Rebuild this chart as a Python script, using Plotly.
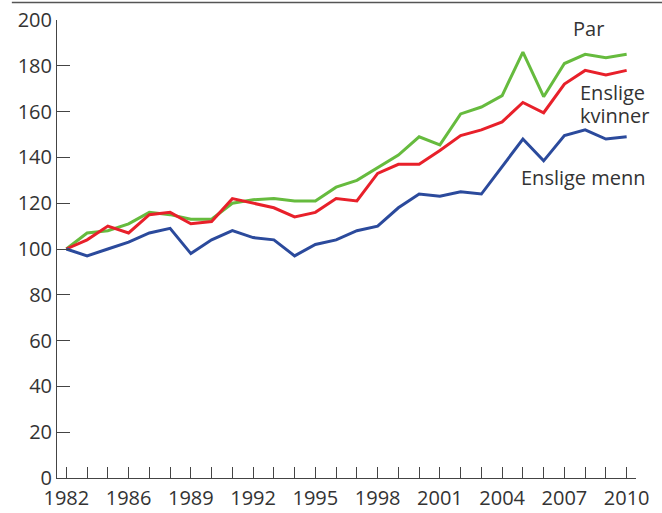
import plotly.graph_objects as go

# Data (index positions 0..27; labels shown at every third tick)
labels = ["1982", "", "", "1986", "", "", "1989", "", "", "1992", "", "", "1995", "", "",
          "1998", "", "", "2001", "", "", "2004", "", "", "2007", "", "", "2010"]
idx = list(range(len(labels)))

par = [100, 107, 108, 111, 116, 115, 113, 113, 120, 121.5, 122, 121, 121, 127, 130,
       135.5, 141, 149, 145.5, 159, 162, 167, 186, 166.5, 181, 185, 183.5, 185]
kvinner = [100, 104, 110, 107, 115, 116, 111, 112, 122, 120, 118, 114, 116, 122, 121,
           133, 137, 137, 143, 149.5, 152, 155.5, 164, 159.5, 172, 178, 176, 178]
menn = [100, 97, 100, 103, 107, 109, 98, 104, 108, 105, 104, 97, 102, 104, 108,
        110, 118, 124, 123, 125, 124, 136, 148, 138.5, 149.5, 152, 148, 149]

FONT = "Open Sans"
TXT = "#333333"

fig = go.Figure()
fig.add_trace(go.Scatter(x=idx, y=par, mode="lines", name="Par",
                         line=dict(color="#66bb3e", width=3)))
fig.add_trace(go.Scatter(x=idx, y=kvinner, mode="lines", name="Enslige kvinner",
                         line=dict(color="#e8202a", width=3)))
fig.add_trace(go.Scatter(x=idx, y=menn, mode="lines", name="Enslige menn",
                         line=dict(color="#2b4a9c", width=3)))

ann_font = dict(family=FONT, size=20, color=TXT)
for text, x, y in [("Par", 24.3, 196.3), ("Enslige", 24.65, 168.5),
                   ("kvinner", 24.65, 158.4), ("Enslige menn", 21.8, 131.3)]:
    fig.add_annotation(x=x, y=y, xref="x", yref="y", text=text, showarrow=False,
                       xanchor="left", yanchor="middle", font=ann_font)

fig.add_shape(type="line", xref="paper", yref="paper", x0=-0.078, x1=1.197,
              y0=1.038, y1=1.038, line=dict(color="#555555", width=1.5))

fig.update_layout(
    width=662, height=513,
    margin=dict(l=57, r=26, t=20, b=35),
    paper_bgcolor="white", plot_bgcolor="white",
    showlegend=False,
    font=dict(family=FONT, size=20, color=TXT),
)
fig.update_xaxes(range=[-0.45, 27.45], tickmode="array", tickvals=idx, ticktext=labels,
                 automargin=False, ticklabelstandoff=2,
                 showline=True, linecolor="#444444", linewidth=1, showgrid=False,
                 zeroline=False, ticks="inside", ticklen=11, tickcolor="#444444",
                 tickwidth=1, tickfont=dict(family=FONT, size=20, color=TXT))
fig.update_yaxes(range=[0, 200], dtick=20, tick0=0, automargin=False,
                 showline=True, linecolor="#444444", linewidth=1, showgrid=False,
                 zeroline=False, ticks="inside", ticklen=13, tickcolor="#444444",
                 tickwidth=1, tickfont=dict(family=FONT, size=20, color=TXT))

fig.write_html("out.html", config={"displayModeBar": False},
               post_script="document.body.style.margin='0px';document.body.style.overflow='hidden';")
